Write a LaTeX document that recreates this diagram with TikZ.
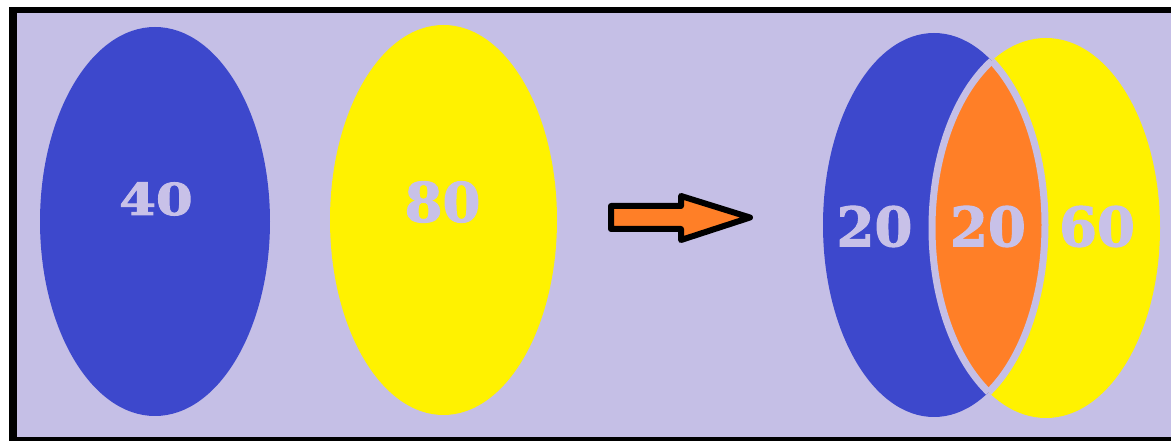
\documentclass[tikz,border=0pt]{standalone}
\usepackage{fontspec}
\usepackage{graphicx}
\usepackage{tikz}
\newfontfamily\numfont{DejaVu Serif}[BoldFeatures={FakeBold=2}]
\definecolor{lavbg}{HTML}{C5BFE6}
\definecolor{lavtext}{HTML}{C8C1E8}
\definecolor{setblue}{HTML}{3D48CC}
\definecolor{setyellow}{HTML}{FFF200}
\definecolor{setorange}{HTML}{FF7F27}

\begin{document}
\begin{tikzpicture}[x=0.02cm, y=-0.02cm,
    numlabel/.style={inner sep=0pt, text=lavtext, font=\numfont\bfseries\fontsize{25}{25}\selectfont},
    biglabel/.style={numlabel, font=\numfont\bfseries\fontsize{31}{31}\selectfont}]
    \useasboundingbox (0,0) rectangle (1171,442);

    % Khung nền
    \fill[black] (9,7) rectangle (1171,441);
    \fill[lavbg] (17,13) rectangle (1171,437);

    % Hai tập hợp riêng rẽ
    \fill[setblue] (155,221.5) ellipse [x radius=115, y radius=194.5];
    \fill[setyellow] (443.5,220) ellipse [x radius=113.5, y radius=195];
    \node[numlabel] (setA) at (156,199) {\scalebox{1.2}[1]{40}};
    \node[biglabel] (setB) at (442.5,202) {80};

    % Mũi tên chuyển
    \draw[black, line width=0.12cm, line join=round, fill=setorange]
        (611,206) -- (681,206) -- (681,196) -- (750,217.5)
        -- (681,240) -- (681,229) -- (611,229) -- cycle;

    % Biểu đồ Venn: hai tập giao nhau
    \fill[setblue] (934,225) ellipse [x radius=111, y radius=192];
    \fill[setyellow] (1046,228) ellipse [x radius=114, y radius=190];
    \begin{scope}
        \clip (934,225) ellipse [x radius=111, y radius=192];
        \fill[setorange] (1046,228) ellipse [x radius=114, y radius=190];
    \end{scope}

    % Viền phần giao
    \begin{scope}
        \clip (1046,228) ellipse [x radius=114, y radius=190];
        \draw[lavbg, line width=0.14cm] (934,225) ellipse [x radius=111, y radius=192];
    \end{scope}
    \begin{scope}
        \clip (934,225) ellipse [x radius=111, y radius=192];
        \draw[lavbg, line width=0.14cm] (1046,228) ellipse [x radius=114, y radius=190];
    \end{scope}

    % Nhãn số phần tử
    \node[biglabel] (onlyA) at (874.5,226.5) {20};
    \node[biglabel] (bothAB) at (988,226.5) {20};
    \node[biglabel] (onlyB) at (1097,226.5) {60};
\end{tikzpicture}
\end{document}
